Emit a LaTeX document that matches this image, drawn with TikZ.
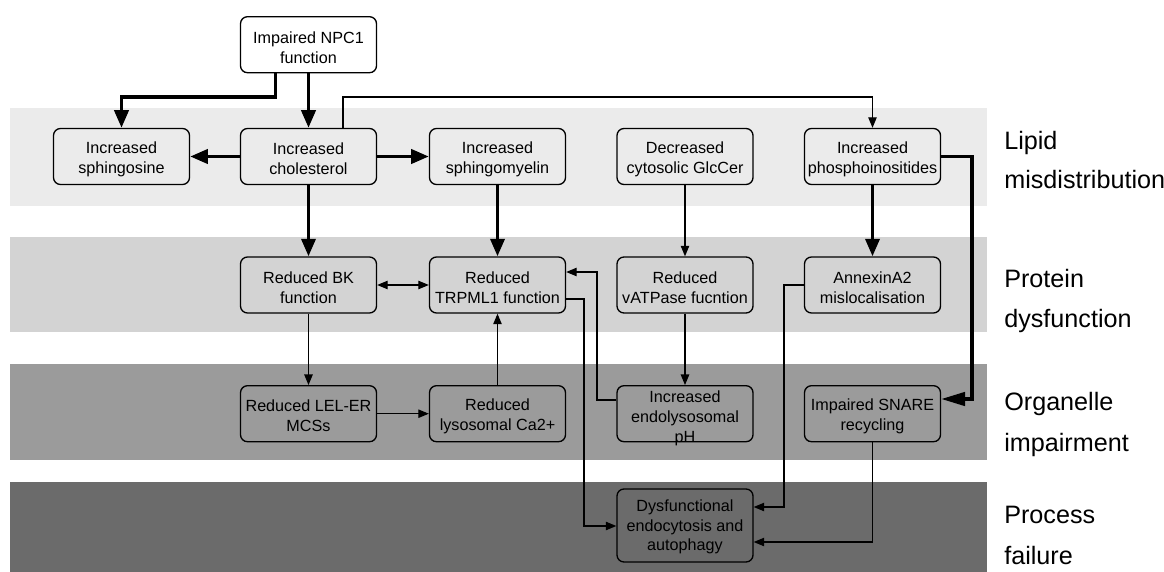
\documentclass[tikz,border=0pt]{standalone}
\usepackage{fontspec}
\setmainfont{Liberation Sans}
\usetikzlibrary{arrows.meta,calc}
\definecolor{bandA}{HTML}{EBEBEB}
\definecolor{bandB}{HTML}{D3D3D3}
\definecolor{bandC}{HTML}{9B9B9B}
\definecolor{bandD}{HTML}{6B6B6B}
\begin{document}
\begin{tikzpicture}[x=0.025cm,y=-0.025cm,line join=miter,
  box/.style={draw=black,line width=0.95pt,rounded corners=5pt,minimum width=3.4cm,minimum height=1.4cm,inner sep=0pt},
  tallbox/.style={box,minimum height=1.825cm},
  txt/.style={font=\fontsize{11.5}{14}\selectfont,align=center,inner sep=0pt},
  lab/.style={font=\fontsize{17.9}{20}\selectfont,anchor=base west,inner sep=0pt},
  thn/.style={line width=0.8pt,-{Triangle[length=7.5pt,width=6pt]}},
  thk/.style={line width=2.5pt,-{Triangle[length=12.5pt,width=10pt]}},
  thkl/.style={line width=2.5pt,-{Triangle[length=17pt,width=9.5pt]}}]
\useasboundingbox (0,0) rectangle (1164,572);
\fill[white] (0,0) rectangle (1164,572);
% bands
\fill[bandA] (10,108) rectangle (987,206);
\fill[bandB] (10,237) rectangle (987,332);
\fill[bandC] (10,364) rectangle (987,460);
\fill[bandD] (10,481.7) rectangle (987,572);
% boxes
\node[box,fill=white] (npc) at (308.5,44.7) {};
\node[txt] (npct) at (308.5,47.5) {Impaired NPC1\\function};
\node[box] (sph) at (121.5,156.5) {};
\node[txt] (spht) at (121.5,159) {Increased\\sphingosine};
\node[box] (chol) at (308.5,156.5) {};
\node[txt] (cholt) at (308.5,159) {Increased\\cholesterol};
\node[box] (sm) at (497.5,156.5) {};
\node[txt] (smt) at (497.5,159) {Increased\\sphingomyelin};
\node[box] (glc) at (685,156.5) {};
\node[txt] (glct) at (685,159) {Decreased\\cytosolic GlcCer};
\node[box] (phos) at (872.5,156.5) {};
\node[txt] (phost) at (872.5,159) {Increased\\phosphoinositides};
\node[box] (bk) at (308.5,285) {};
\node[txt] (bkt) at (308.5,287.5) {Reduced BK\\function};
\node[box] (trp) at (497.5,285) {};
\node[txt] (trpt) at (497.5,287.5) {Reduced\\TRPML1 function};
\node[box] (vat) at (685,285) {};
\node[txt] (vatt) at (685,287.5) {Reduced\\vATPase fucntion};
\node[box] (anx) at (872.5,285) {};
\node[txt] (anxt) at (872.5,287.5) {AnnexinA2\\mislocalisation};
\node[box] (lel) at (308.5,413.7) {};
\node[txt] (lelt) at (308.5,416) {Reduced LEL-ER\\MCSs};
\node[box] (ca) at (497.5,413.7) {};
\node[txt] (cat) at (497.5,416) {Reduced\\lysosomal Ca2+};
\node[box] (ph) at (685,413.7) {};
\node[txt] (pht) at (685,418.5) {Increased\\endolysosomal\\pH};
\node[box] (snare) at (872.5,413.7) {};
\node[txt] (snaret) at (872.5,416) {Impaired SNARE\\recycling};
\node[tallbox] (dys) at (685,525.5) {};
\node[txt] (dyst) at (685,527) {Dysfunctional\\endocytosis and\\autophagy};
% labels
\node[lab] (l1a) at (1004,149) {Lipid};
\node[lab] (l1b) at (1004,188) {misdistribution};
\node[lab] (l2a) at (1004,287) {Protein};
\node[lab] (l2b) at (1004,327) {dysfunction};
\node[lab] (l3a) at (1004,410) {Organelle};
\node[lab] (l3b) at (1004,451) {impairment};
\node[lab] (l4a) at (1004,523) {Process};
\node[lab] (l4b) at (1004,564) {failure};
% connectors
\coordinate (ja) at (275.5,97);
\coordinate (jb) at (343,97);
\draw[thk] (npc.south -| ja) -- (ja) -| (sph.north);
\draw[thk] (npc.south) -- (chol.north);
\draw[thn] (chol.north -| jb) -- (jb) -| (phos.north);
\draw[thk] (chol.west) -- (sph.east);
\draw[thk] (chol.east) -- (sm.west);
\draw[thk] (chol.south) -- (bk.north);
\draw[thk] (sm.south) -- (trp.north);
\draw[thn] (glc.south) -- (vat.north);
\draw[thk] (phos.south) -- (anx.north);
\coordinate (jd) at (972,399);
\draw[thkl] (phos.east) -| (jd) -- (snare.east |- jd);
\draw[line width=0.8pt,{Triangle[length=7.5pt,width=6pt]}-{Triangle[length=7.5pt,width=6pt]}] (bk.east) -- (trp.west);
\draw[thn] (bk.south) -- (lel.north);
\draw[thn] (lel.east) -- (ca.west);
\draw[thn] (ca.north) -- (trp.south);
\draw[thn] (vat.south) -- (ph.north);
\coordinate (je1) at (597,400);
\coordinate (je2) at (597,272);
\draw[thn] (ph.west |- je1) -- (je1) -- (je2) -- (trp.east |- je2);
\coordinate (jf1) at (584,299);
\coordinate (jf2) at (584,526);
\draw[thn] (trp.east |- jf1) -- (jf1) -- (jf2) -- (dys.west |- jf2);
\coordinate (jg1) at (784,285);
\coordinate (jg2) at (784,507);
\draw[thn] (anx.west |- jg1) -- (jg1) -- (jg2) -- (dys.east |- jg2);
\coordinate (jh) at (872.5,542);
\draw[thn] (snare.south) -- (jh) -- (dys.east |- jh);
\end{tikzpicture}
\end{document}
